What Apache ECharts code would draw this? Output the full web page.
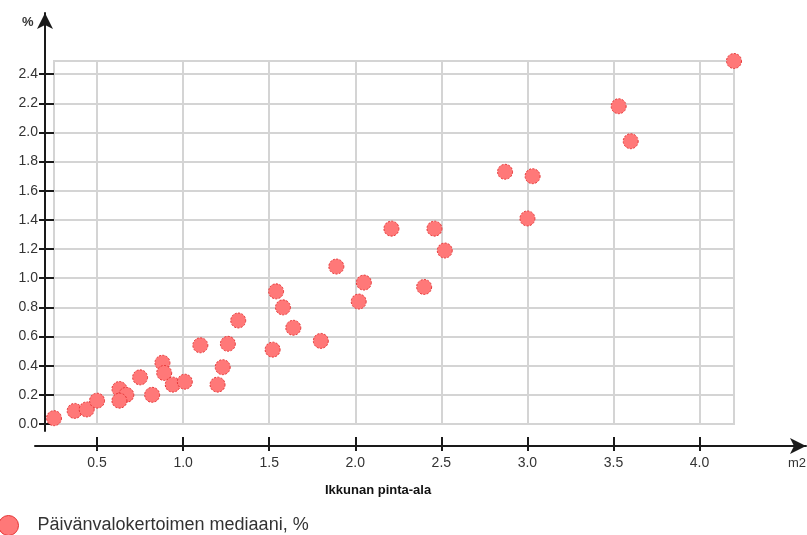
<!DOCTYPE html>
<html>
<head>
<meta charset="utf-8">
<script src="https://cdn.jsdelivr.net/npm/echarts@6/dist/echarts.min.js"></script>
<style>
  html, body { margin: 0; padding: 0; background: #fff; }
  #chart { width: 807px; height: 535px; }
</style>
</head>
<body>
<div id="chart"></div>
<script>
// Window area (m2) and the median daylight factor (%) measured for each room
const windowArea = [0.25, 0.37, 0.44, 0.50, 0.63, 0.67, 0.63, 0.75, 0.82, 0.88, 0.89, 0.94,
  1.01, 1.10, 1.20, 1.23, 1.26, 1.32, 1.52, 1.54, 1.58, 1.64, 1.80, 1.89,
  2.02, 2.05, 2.21, 2.40, 2.46, 2.52, 2.87, 3.00, 3.03, 3.53, 3.60, 4.20];
const daylightMedian = [0.04, 0.09, 0.10, 0.16, 0.24, 0.20, 0.16, 0.32, 0.20, 0.42, 0.35, 0.27,
  0.29, 0.54, 0.27, 0.39, 0.55, 0.71, 0.51, 0.91, 0.80, 0.66, 0.57, 1.08,
  0.84, 0.97, 1.34, 0.94, 1.34, 1.19, 1.73, 1.41, 1.70, 2.18, 1.94, 2.49];

// Tick positions and texts
const xTicks = [0.5, 1.0, 1.5, 2.0, 2.5, 3.0, 3.5, 4.0];
const yTicks = [0.0, 0.2, 0.4, 0.6, 0.8, 1.0, 1.2, 1.4, 1.6, 1.8, 2.0, 2.2, 2.4];
const seriesName = 'Päivänvalokertoimen mediaani, %';
const xTitle = 'Ikkunan pinta-ala';
const xUnit = 'm2';
const yUnit = '%';

const font = "'Liberation Sans', Arial, sans-serif";
const gridColor = '#d4d4d4';
const axisColor = '#1a1a1a';
const fmt = v => Number(v).toFixed(1);

const points = windowArea.map((x, i) => [x, daylightMedian[i]]);

const chart = echarts.init(document.getElementById('chart'), null, { renderer: 'canvas' });
chart.setOption({
  animation: false,
  backgroundColor: '#fff',
  textStyle: { fontFamily: font },
  title: [
    { text: xTitle, left: 325, top: 484, padding: 0,
      textStyle: { fontFamily: font, fontSize: 13, fontWeight: 'bold', color: '#111' } },
    { text: yUnit, left: 22, top: 16, padding: 0,
      textStyle: { fontFamily: font, fontSize: 13, fontWeight: 'bold', color: '#333' } },
    { text: xUnit, right: 1, top: 457, padding: 0,
      textStyle: { fontFamily: font, fontSize: 13, fontWeight: 'normal', color: '#333' } }
  ],
  legend: {
    data: [seriesName],
    left: -7, top: 510,
    itemWidth: 20, itemHeight: 20,
    itemStyle: { borderType: 'solid', borderColor: '#e53333', borderWidth: 1 },
    textStyle: { fontFamily: font, fontSize: 18, color: '#333', padding: [0, 0, 0, 14] }
  },
  grid: [
    { left: 54, right: 73, top: 61, bottom: 111, show: true, borderColor: gridColor, borderWidth: 2 },
    { left: 35, right: 1, top: 20, bottom: 89 },
    { left: 45, width: 10, top: 13, bottom: 104 }
  ],
  xAxis: [
    {
      gridIndex: 0, type: 'value', min: 'dataMin', max: 'dataMax', offset: 13,
      axisLine: { show: false, onZero: false },
      axisTick: { show: true, length: 14, customValues: xTicks, lineStyle: { color: axisColor, width: 2 } },
      axisLabel: { customValues: xTicks, margin: 19, formatter: fmt, color: '#333', fontSize: 14, fontFamily: font },
      splitLine: { show: true, lineStyle: { color: gridColor, width: 2 } }
    },
    {
      gridIndex: 1, type: 'value', min: 0, max: 1,
      axisLine: { show: true, onZero: false, symbol: ['none', 'arrow'], symbolSize: [12, 16],
        lineStyle: { color: axisColor, width: 2 } },
      axisTick: { show: false }, axisLabel: { show: false }, splitLine: { show: false }
    },
    { gridIndex: 2, type: 'value', min: 0, max: 1, show: false }
  ],
  yAxis: [
    {
      gridIndex: 0, type: 'value', min: 0, max: 'dataMax',
      axisLine: { show: false, onZero: false },
      axisTick: { show: true, length: 15, customValues: yTicks, lineStyle: { color: axisColor, width: 2 } },
      axisLabel: { customValues: yTicks, margin: 16, formatter: fmt, color: '#333', fontSize: 14, fontFamily: font },
      splitLine: { show: true, lineStyle: { color: gridColor, width: 2 } }
    },
    { gridIndex: 1, type: 'value', min: 0, max: 1, show: false },
    {
      gridIndex: 2, type: 'value', min: 0, max: 1,
      axisLine: { show: true, onZero: false, symbol: ['none', 'arrow'], symbolSize: [12, 16],
        lineStyle: { color: axisColor, width: 2 } },
      axisTick: { show: false }, axisLabel: { show: false }, splitLine: { show: false }
    }
  ],
  series: [
    {
      name: seriesName,
      type: 'scatter',
      xAxisIndex: 0, yAxisIndex: 0,
      data: points,
      symbol: 'circle',
      symbolSize: 15,
      clip: false,
      itemStyle: { color: '#ff7878', borderColor: '#e53333', borderWidth: 1, borderType: [2, 1.5], opacity: 1 }
    }
  ]
});
</script>
</body>
</html>
